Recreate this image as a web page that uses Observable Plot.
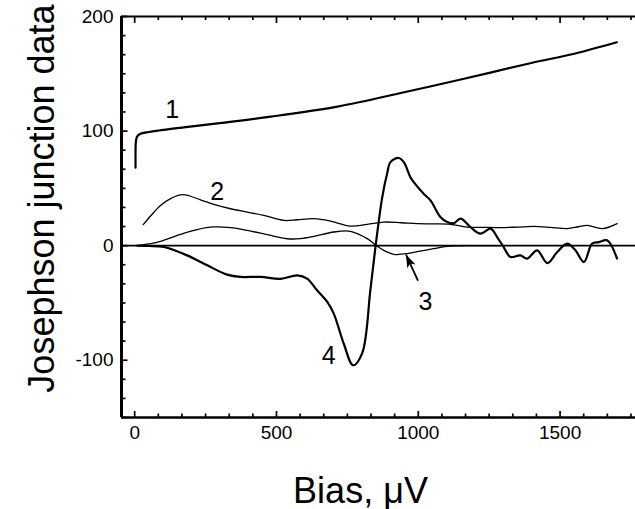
<!DOCTYPE html>
<html>
<head>
<meta charset="utf-8">
<script src="https://cdn.jsdelivr.net/npm/d3@7"></script>
<script src="https://cdn.jsdelivr.net/npm/@observablehq/plot@0.6"></script>
<style>
  html, body { margin: 0; padding: 0; background: #fff; }
  #chart svg { display: block; }
</style>
</head>
<body>
<div id="chart"></div>
<script>
// ---- data ----
const bias1  = [3, 3, 4, 8, 20, 50, 85, 180, 300, 480, 715, 950, 1150, 1395, 1550, 1700];
const curve1 = [68, 80, 90, 95, 97.6, 99.2, 100.5, 103.4, 107, 112.6, 121.4, 133.9, 145, 159.2, 167.5, 177.5];

const bias2  = [30, 60, 91, 130, 170, 232, 279, 338, 397, 455, 526, 573, 632, 690, 761, 820, 878, 940, 996, 1055, 1114, 1172, 1230, 1290, 1350, 1407, 1465, 1525, 1565, 1596, 1649, 1701];
const curve2 = [18.3, 27, 35, 41.5, 44.5, 40, 36, 32.2, 29.3, 26.4, 22, 22.6, 23.5, 21.4, 17.1, 18.6, 20.6, 20, 19.2, 19, 18.6, 16.2, 16, 15.7, 16.2, 16.8, 16, 14.8, 16.5, 17.7, 14.8, 19.2];

const bias3  = [9, 50, 91, 161, 220, 279, 338, 397, 467, 538, 585, 632, 702, 761, 820, 855, 885, 914, 961, 1000, 1055, 1102, 1200, 1290];
const curve3 = [0, 1.5, 3.7, 9.8, 14, 16.3, 15.7, 13.3, 9.6, 6, 6.1, 8.1, 11.9, 12.5, 6.1, -0.6, -5, -7.6, -7, -5, -2.6, -0.6, 0, 0];

const bias4  = [9, 50, 103, 185, 256, 326, 373, 444, 514, 573, 608, 643, 679, 702, 737, 770, 802, 831, 849, 873, 890, 902, 931, 949, 972, 984, 1019, 1043, 1078, 1102, 1125, 1149, 1184, 1219, 1255, 1278, 1301, 1325, 1360, 1384, 1419, 1455, 1490, 1525, 1554, 1584, 1613, 1637, 1666, 1701];
const curve4 = [0, -0.3, -1.2, -8.5, -17.2, -25.3, -27.3, -27.3, -29, -25.9, -28.8, -39, -49, -59.3, -85.4, -104.4, -94, -39, -1.2, 42.4, 62.8, 72.9, 76.5, 72.9, 59.8, 55.5, 45.3, 39.5, 25, 20.6, 19.5, 23.5, 16.2, 10.5, 14.8, 7.5, -1.2, -9.9, -8.5, -11.3, -4.1, -15.2, -5.6, 1.7, -4.1, -14.3, 1.7, 3.1, 4.6, -11.3];

const curveLabels = ["1", "2", "3", "4"];
const labelBias   = [132, 291, 1025, 684];
const labelValue  = [118, 46.7, -49, -96.5];

const arrowFrom = [998, -30];
const arrowTo   = [958, -8.5];

const xTickLabels = [0, 500, 1000, 1500];
const yTickLabels = [-100, 0, 100, 200];
const xMinorStep = 500 / 6;
const yMinorStep = 100 / 6;

const xDomain = [-46.5, 1766];
const yDomain = [-150, 200];

const xTitle = "Bias, \u03BCV";
const yTitle = "Josephson junction data";

// ---- layout ----
const W = 635, H = 509;
const mL = 121, mR = 0, mT = 16, mB = 92;
const pw = W - mL - mR, ph = H - mT - mB;

const xMinor = d3.range(0, xDomain[1], xMinorStep).filter(v => !xTickLabels.some(t => Math.abs(t - v) < 1e-6));
const yMinor = d3.range(yDomain[0], yDomain[1] + 1e-6, yMinorStep).filter(v => !yTickLabels.some(t => Math.abs(t - v) < 1e-6));

const toRows = (xs, ys) => xs.map((x, i) => ({x, y: ys[i]}));

// filled arrowhead marker
const filledArrow = (color, context) => {
  const m = d3.create("svg:marker")
    .attr("viewBox", "-10 -5 16 10")
    .attr("markerWidth", 16)
    .attr("markerHeight", 10)
    .attr("markerUnits", "userSpaceOnUse")
    .attr("refX", 4)
    .attr("refY", 0)
    .attr("orient", "auto");
  m.append("path").attr("d", "M-8,-4.5L5,0L-8,4.5L-5,0Z").attr("fill", color).attr("stroke", "none");
  return m.node();
};

const chart = Plot.plot({
  width: W,
  height: H,
  marginLeft: mL,
  marginRight: mR,
  marginTop: mT,
  marginBottom: mB,
  style: {
    fontFamily: "'Liberation Sans', Arial, Helvetica, sans-serif",
    fontSize: "19px",
    color: "black",
    background: "white",
    overflow: "visible"
  },
  x: {domain: xDomain, axis: null},
  y: {domain: yDomain, axis: null},
  marks: [
    // zero line
    Plot.ruleY([0], {stroke: "black", strokeWidth: 1.8}),
    // curves
    Plot.line(toRows(bias2, curve2), {x: "x", y: "y", stroke: "black", strokeWidth: 1.3, curve: "catmull-rom"}),
    Plot.line(toRows(bias3, curve3), {x: "x", y: "y", stroke: "black", strokeWidth: 1.3, curve: "catmull-rom"}),
    Plot.line(toRows(bias1, curve1), {x: "x", y: "y", stroke: "black", strokeWidth: 2.2, curve: "catmull-rom"}),
    Plot.line(toRows(bias4, curve4), {x: "x", y: "y", stroke: "black", strokeWidth: 2.2, curve: "catmull-rom"}),
    // curve labels
    Plot.text(curveLabels, {x: (d, i) => labelBias[i], y: (d, i) => labelValue[i], text: d => d, fontSize: 25, fill: "black"}),
    // arrow for label 3 (filled head)
    Plot.line([arrowFrom, arrowTo], {x: d => d[0], y: d => d[1], stroke: "black", strokeWidth: 1.8, markerEnd: filledArrow}),
    // frame lines: left, bottom, top
    Plot.ruleX([xDomain[0]], {stroke: "black", strokeWidth: 3}),
    Plot.ruleY([yDomain[0]], {stroke: "black", strokeWidth: 2.5}),
    Plot.ruleY([yDomain[1]], {stroke: "black", strokeWidth: 2}),
    // inward ticks bottom
    Plot.tickX(xTickLabels, {x: d => d, insetTop: ph - 6, stroke: "black", strokeWidth: 1.7}),
    Plot.tickX(xMinor, {x: d => d, insetTop: ph - 3.5, stroke: "black", strokeWidth: 1.7}),
    // inward ticks top
    Plot.tickX(xTickLabels, {x: d => d, insetBottom: ph - 7, stroke: "black", strokeWidth: 1.7}),
    Plot.tickX(xMinor, {x: d => d, insetBottom: ph - 4, stroke: "black", strokeWidth: 1.7}),
    // inward ticks left
    Plot.tickY(yTickLabels, {y: d => d, insetRight: pw - 6.5, stroke: "black", strokeWidth: 1.7}),
    Plot.tickY(yMinor, {y: d => d, insetRight: pw - 4.5, stroke: "black", strokeWidth: 1.7}),
    // tick labels
    Plot.axisX(xTickLabels, {tickSize: 0, tickPadding: 8, label: null, tickFormat: d => String(d)}),
    Plot.axisY(yTickLabels, {tickSize: 0, tickPadding: 8, label: null, tickFormat: d => String(d)}),
    // axis titles
    Plot.text([yTitle], {frameAnchor: "left", textAnchor: "middle", lineAnchor: "middle", rotate: -90, dx: -79, dy: -18.5, fontSize: 36, fill: "black", text: d => d}),
    Plot.text([xTitle], {frameAnchor: "bottom", textAnchor: "middle", dx: -18, dy: 85, lineAnchor: "bottom", fontSize: 36, fill: "black", text: d => d})
  ]
});

document.getElementById("chart").appendChild(chart);
</script>
</body>
</html>
